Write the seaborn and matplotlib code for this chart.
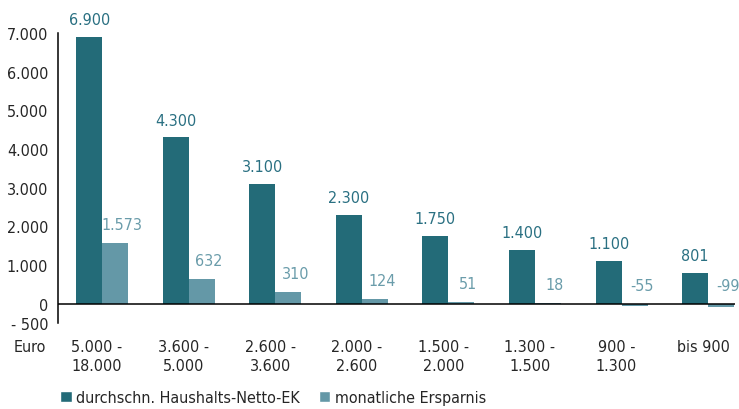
import matplotlib
matplotlib.use("Agg")
import matplotlib.pyplot as plt
import matplotlib.transforms as mtransforms
from matplotlib.patches import Patch
import pandas as pd
import seaborn as sns

# Income brackets (Euro per month) and the two series
categories = ["5.000 -\n18.000", "3.600 -\n5.000", "2.600 -\n3.600", "2.000 -\n2.600",
              "1.500 -\n2.000", "1.300 -\n1.500", "900 -\n1.300", "bis 900"]
income = [6900, 4300, 3100, 2300, 1750, 1400, 1100, 801]
savings = [1573, 632, 310, 124, 51, 18, -55, -99]
series_names = ["durchschn. Haushalts-Netto-EK", "monatliche Ersparnis"]
yticks = [-500, 0, 1000, 2000, 3000, 4000, 5000, 6000, 7000]

DARK = "#236b78"
LIGHT = "#6498a7"
DARK_TXT = "#2a7082"
LIGHT_TXT = "#6a9caa"

sns.set_style("white")
plt.rcParams["font.family"] = ["DejaVu Sans"]
plt.rcParams["font.stretch"] = "condensed"
FS = 11.5

df = pd.DataFrame({
    "Kategorie": categories * 2,
    "Wert": income + savings,
    "Reihe": [series_names[0]] * len(categories) + [series_names[1]] * len(categories),
})

fig = plt.figure(figsize=(7.39, 4.10), dpi=100)
ax = fig.add_axes([58 / 739, 86 / 410, 677 / 739, 290 / 410])

sns.barplot(data=df, x="Kategorie", y="Wert", hue="Reihe", palette=[DARK, LIGHT],
            width=0.6, saturation=1, ax=ax, legend=False, errorbar=None,
            linewidth=0)

ax.set_xlim(-0.51, 7.31)
ax.set_ylim(-500, 7000)
ax.axhline(0, color="black", lw=1.1, zorder=3)

for s in ["top", "right", "bottom"]:
    ax.spines[s].set_visible(False)
ax.spines["left"].set_color("black")
ax.spines["left"].set_linewidth(1.1)

def fmt(v):
    s = f"{abs(v):,}".replace(",", ".")
    return ("- " if v < 0 else "") + s

ax.set_yticks(yticks)
ax.set_yticklabels([fmt(v) for v in yticks], fontsize=FS)
ax.tick_params(axis="y", length=4, width=1.1, direction="out", pad=3, color="black")
ax.set_xticks([])
ax.set_xlabel("")
ax.set_ylabel("")

# Category labels beneath the axis
trans = mtransforms.blended_transform_factory(ax.transData, ax.transAxes)
for i, lab in enumerate(categories):
    ax.text(i - 0.06, -0.055, lab, transform=trans, ha="center", va="top",
            fontsize=FS, linespacing=1.3)
ax.text(-0.017, -0.055, "Euro", transform=ax.transAxes, ha="right", va="top", fontsize=FS)

# Value labels
dark_bars, light_bars = ax.containers[0], ax.containers[1]
for bar, v in zip(dark_bars, income):
    ax.annotate(fmt(v), (bar.get_x() + bar.get_width() / 2, v), xytext=(0, 7),
                textcoords="offset points", ha="center", va="bottom",
                fontsize=FS, color=DARK_TXT, annotation_clip=False)
for bar, v in zip(light_bars, savings):
    lab = fmt(v) if v >= 0 else f"-{abs(v)}"
    ax.annotate(lab, (bar.get_x() + bar.get_width() / 2, max(v, 0)), xytext=(5, 8),
                textcoords="offset points", ha="center", va="bottom",
                fontsize=FS, color=LIGHT_TXT, annotation_clip=False)

# Legend
handles = [Patch(facecolor=DARK), Patch(facecolor=LIGHT)]
fig.legend(handles, series_names, loc="lower left", bbox_to_anchor=(54 / 739, -0.006),
           ncol=2, frameon=False, fontsize=FS, handlelength=0.7, handleheight=0.7,
           handletextpad=0.3, columnspacing=1.2, borderaxespad=0)

fig.savefig("out.png", dpi=100)
